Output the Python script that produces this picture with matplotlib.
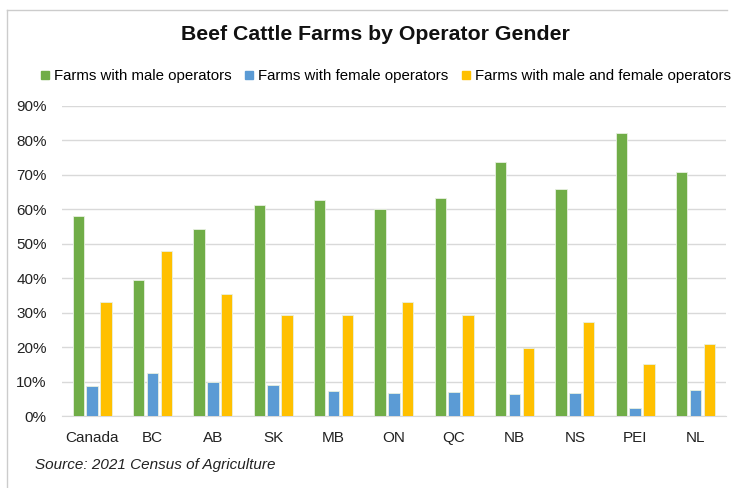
import matplotlib.pyplot as plt
import numpy as np
from matplotlib.lines import Line2D

plt.rcParams['font.family'] = ['Liberation Sans', 'DejaVu Sans']

regions = ['Canada', 'BC', 'AB', 'SK', 'MB', 'ON', 'QC', 'NB', 'NS', 'PEI', 'NL']
male = [58.0, 39.5, 54.4, 61.3, 62.7, 60.0, 63.2, 73.8, 65.8, 82.1, 70.9]
female = [8.7, 12.4, 9.8, 9.0, 7.3, 6.6, 6.9, 6.3, 6.6, 2.3, 7.5]
both = [33.1, 47.8, 35.5, 29.2, 29.2, 33.0, 29.3, 19.6, 27.2, 15.2, 20.9]
series_names = ['Farms with male operators', 'Farms with female operators',
                'Farms with male and female operators']
colors = ['#70AD47', '#5B9BD5', '#FFC000']

fig = plt.figure(figsize=(7.33, 4.88), dpi=100)
ax = fig.add_axes([0.0846, 0.1475, 0.9054, 0.6355])

x = np.arange(len(regions))
width = 0.19
step = 0.23
for i, (vals, name) in enumerate(zip([male, female, both], series_names)):
    ax.bar(x + (i - 1) * step, np.array(vals) / 100, width, color=colors[i],
           edgecolor='#e8f0e0', linewidth=0.6, label=name, zorder=3)

ax.set_xlim(-0.5, len(regions) - 0.5)
ax.set_ylim(0, 0.9)
ax.set_yticks(np.arange(0, 0.91, 0.1))
ax.set_yticklabels([f'{int(round(t * 100))}%' for t in np.arange(0, 0.91, 0.1)])
ax.set_xticks(x)
ax.set_xticklabels(regions)
ax.tick_params(axis='both', length=0, labelsize=11, colors='#222222')
ax.tick_params(axis='x', pad=11)
ax.tick_params(axis='y', pad=11)
ax.grid(axis='y', color='#d9d9d9', linewidth=1, zorder=0)
for s in ['top', 'right', 'left']:
    ax.spines[s].set_visible(False)
ax.spines['bottom'].set_color('#d9d9d9')

fig.text(0.512, 0.93, 'Beef Cattle Farms by Operator Gender', ha='center', va='center',
         fontsize=15.3, fontweight='bold', color='#111111')

handles = [Line2D([], [], marker='s', linestyle='', color=c, markersize=5.5) for c in colors]
fig.legend(handles, series_names, loc='center', bbox_to_anchor=(0.525, 0.844), ncol=3,
           frameon=False, fontsize=10.8, handletextpad=0.22, columnspacing=0.75,
           handlelength=0.8, borderpad=0, borderaxespad=0)

fig.text(0.048, 0.047, 'Source: 2021 Census of Agriculture', fontsize=11,
         style='italic', color='#222222', va='center')

# light frame around the chart
fig.add_artist(Line2D([0.0095, 0.992], [0.979, 0.979], color='#cccccc', linewidth=1))
fig.add_artist(Line2D([0.0095, 0.0095], [0.0, 0.979], color='#cccccc', linewidth=1))

fig.savefig('out.png', dpi=100)
